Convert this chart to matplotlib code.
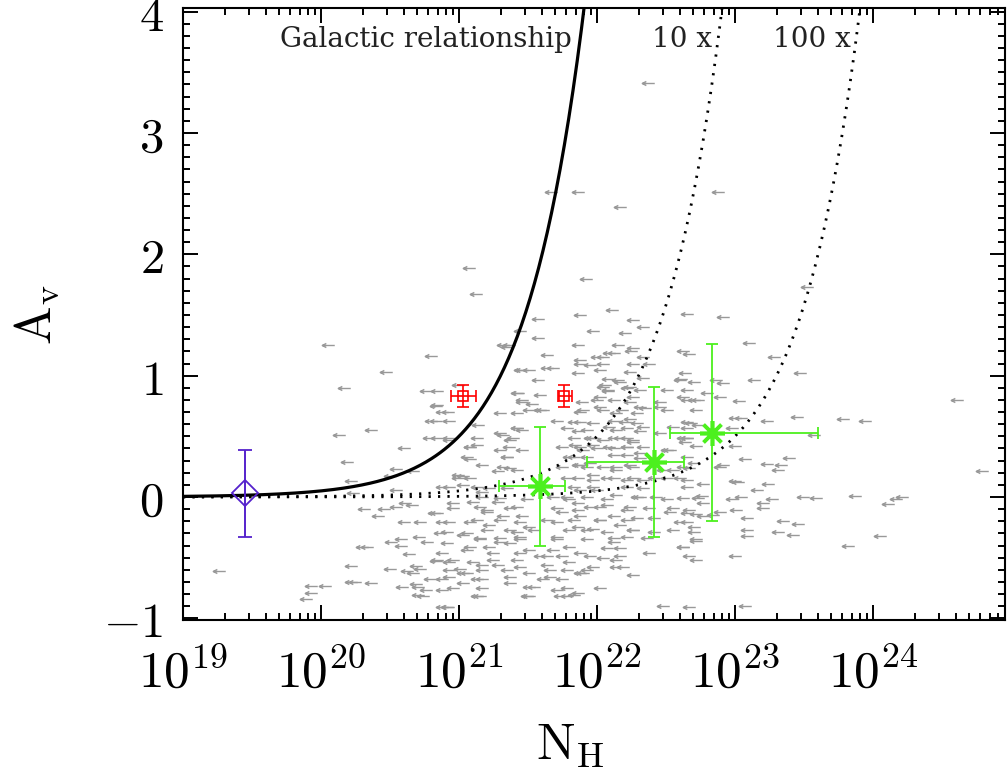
import numpy as np
import matplotlib
matplotlib.use("Agg")
import matplotlib.pyplot as plt
from matplotlib.path import Path
from matplotlib.ticker import MultipleLocator, LogLocator, FuncFormatter, NullFormatter

plt.rcParams['mathtext.fontset'] = 'cm'

# upper limits on N_H: (log10 N_H, A_V)
limit_pts = [
    # sparse upper part
    (22.37, 3.41), (21.86, 2.51), (21.67, 2.51), (22.17, 2.39), (22.88, 2.51),
    (21.07, 1.89), (21.12, 1.67), (21.92, 1.80), (22.11, 1.54), (21.88, 1.50),
    (21.57, 1.47), (22.26, 1.46), (22.33, 1.40), (21.97, 1.37), (22.20, 1.35),
    (21.57, 1.31), (22.65, 1.51), (22.91, 1.48), (23.52, 1.73), (21.44, 1.37),
    (21.35, 1.24), (21.86, 1.25), (22.15, 1.25), (22.26, 1.23),
    # left part
    (20.05, 1.25), (20.80, 1.16), (20.47, 1.03), (20.17, 0.90), (20.76, 0.87),
    (20.83, 0.75), (20.92, 0.70), (20.80, 0.63), (20.93, 0.63), (20.13, 0.51),
    (20.36, 0.55), (20.78, 0.49), (20.93, 0.49), (20.60, 0.40), (20.19, 0.29),
    (20.54, 0.23), (20.67, 0.21), (20.22, 0.13), (20.50, 0.17), (20.54, 0.06),
    (20.23, 0.03), (20.31, -0.10), (20.46, -0.10), (20.54, -0.08), (20.61, -0.05),
    (20.66, -0.07), (20.41, -0.16), (20.82, -0.13), (20.60, -0.21), (20.30, -0.41),
    (20.33, -0.41), (20.51, -0.37), (20.58, -0.35), (20.58, -0.40), (20.71, -0.33),
    (20.64, -0.47), (20.22, -0.57), (20.50, -0.59), (20.69, -0.57), (20.72, -0.59),
    (20.62, -0.61), (20.83, -0.53), (19.26, -0.61), (20.22, -0.70), (20.25, -0.70),
    (20.36, -0.71), (19.93, -0.73), (20.03, -0.73), (20.59, -0.74), (20.69, -0.72),
    (19.93, -0.79), (19.89, -0.84), (20.70, -0.81), (20.76, -0.77), (20.92, -0.91),
    # right part
    (23.10, 1.27), (22.62, 1.20), (22.67, 1.18), (23.28, 1.15), (23.47, 1.02),
    (22.61, 0.97), (22.86, 0.96), (22.91, 0.94), (23.14, 0.96), (22.62, 0.82),
    (22.70, 0.80), (22.73, 0.80), (22.89, 0.82), (23.03, 0.79), (24.61, 0.80),
    (22.80, 0.86), (23.45, 0.66), (23.78, 0.64), (23.94, 0.63), (23.23, 0.63),
    (23.00, 0.65), (23.04, 0.65), (22.68, 0.61), (22.73, 0.59), (22.98, 0.57),
    (23.57, 0.51), (23.00, 0.42), (22.72, 0.42), (22.62, 0.49), (23.39, 0.32),
    (23.07, 0.31), (23.23, 0.27), (23.33, 0.26), (23.31, 0.22), (24.79, 0.21),
    (22.89, 0.25), (22.91, 0.26), (23.24, 0.11), (23.16, 0.06), (23.00, 0.13),
    (23.02, 0.12), (22.77, 0.11), (23.49, 0.00), (23.59, -0.01), (23.87, 0.01),
    (24.11, -0.06), (24.17, -0.02), (24.21, 0.00), (23.27, -0.02), (23.20, -0.05),
    (23.20, -0.09), (23.04, 0.00), (22.98, -0.02), (22.76, 0.01), (22.73, -0.01),
    (22.89, -0.12), (23.01, -0.11), (23.09, -0.17), (23.35, -0.20), (23.46, -0.22),
    (23.09, -0.27), (23.31, -0.29), (23.42, -0.31), (23.09, -0.32), (24.05, -0.32),
    (23.82, -0.40), (22.72, -0.14), (22.72, -0.36), (22.62, -0.41), (22.67, -0.49),
    (22.72, -0.52), (23.00, -0.49), (22.48, -0.90), (22.67, -0.91), (23.07, -0.90),
    # dense centre
    (21.36, 1.25), (21.64, 1.17), (22.00, 1.15), (22.12, 1.19), (22.33, 1.15),
    (21.88, 1.10), (21.95, 1.09), (22.04, 1.10), (22.26, 1.10), (22.38, 1.10),
    (21.46, 1.05), (21.64, 1.06), (21.68, 1.06), (21.86, 1.02), (22.24, 1.03),
    (22.64, 1.02), (21.57, 0.96), (22.08, 0.97), (22.17, 0.95), (22.33, 0.98),
    (22.70, 0.95), (21.43, 0.86), (22.04, 0.91), (22.08, 0.88), (22.22, 0.90),
    (22.31, 0.88), (22.65, 0.88), (21.46, 0.80), (21.53, 0.77), (22.02, 0.82),
    (22.12, 0.80), (22.26, 0.82), (22.46, 0.78), (22.65, 0.80), (21.51, 0.72),
    (21.61, 0.72), (21.88, 0.70), (22.02, 0.74), (22.18, 0.72), (22.31, 0.74),
    (22.51, 0.72), (22.72, 0.72), (21.71, 0.63), (21.83, 0.62), (22.12, 0.63),
    (22.24, 0.64), (22.29, 0.61), (22.65, 0.62), (21.42, 0.57), (21.46, 0.55),
    (21.78, 0.57), (21.93, 0.55), (22.14, 0.55), (22.22, 0.57), (22.31, 0.54),
    (22.65, 0.57), (21.13, 0.49), (21.32, 0.51), (21.39, 0.49), (21.83, 0.49),
    (21.97, 0.49), (22.12, 0.49), (22.22, 0.49), (22.26, 0.47), (22.65, 0.49),
    (21.08, 0.41), (21.30, 0.39), (21.36, 0.41), (21.75, 0.41), (21.88, 0.41),
    (21.97, 0.43), (22.09, 0.41), (22.22, 0.41), (22.33, 0.41), (22.51, 0.39),
    (21.06, 0.33), (21.35, 0.33), (21.83, 0.33), (21.93, 0.33), (22.12, 0.35),
    (22.22, 0.35), (22.31, 0.32), (22.65, 0.33), (22.70, 0.28), (21.32, 0.25),
    (21.37, 0.24), (21.88, 0.26), (21.93, 0.25), (22.14, 0.25), (22.24, 0.26),
    (22.55, 0.22), (22.67, 0.24), (20.99, 0.16), (21.03, 0.17), (21.78, 0.16),
    (21.97, 0.18), (22.12, 0.16), (22.26, 0.16), (22.41, 0.16), (22.60, 0.16),
    (20.93, 0.08), (21.13, 0.08), (21.22, 0.07), (21.83, 0.08), (21.97, 0.08),
    (22.22, 0.08), (22.33, 0.07), (22.65, 0.08), (21.17, 0.00), (21.30, -0.01),
    (21.49, -0.02), (21.78, 0.00), (21.93, 0.00), (22.07, -0.02), (22.31, 0.00),
    (22.51, -0.02), (20.96, -0.09), (21.15, -0.08), (21.20, -0.11), (21.37, -0.09),
    (21.71, -0.09), (21.86, -0.11), (22.02, -0.08), (22.22, -0.11), (22.55, -0.09),
    (22.67, -0.11), (20.72, -0.21), (20.88, -0.21), (21.13, -0.19), (21.30, -0.19),
    (21.44, -0.21), (21.64, -0.19), (21.83, -0.19), (22.02, -0.19), (22.22, -0.19),
    (22.65, -0.21), (20.91, -0.29), (21.06, -0.30), (21.20, -0.27), (21.42, -0.29),
    (21.54, -0.27), (21.93, -0.27), (22.07, -0.29), (22.26, -0.27), (22.41, -0.29),
    (22.70, -0.29), (20.77, -0.37), (21.15, -0.35), (21.30, -0.37), (21.44, -0.35),
    (21.71, -0.35), (21.93, -0.35), (22.12, -0.37), (20.88, -0.46), (21.06, -0.44),
    (21.25, -0.46), (21.44, -0.46), (21.64, -0.49), (21.88, -0.46), (22.17, -0.49),
    (20.93, -0.54), (21.01, -0.59), (21.17, -0.56), (21.28, -0.56), (21.44, -0.58),
    (21.64, -0.56), (21.80, -0.54), (21.93, -0.60), (22.14, -0.58), (20.67, -0.63),
    (20.79, -0.68), (20.93, -0.66), (21.06, -0.63), (21.13, -0.68), (21.37, -0.66),
    (21.66, -0.66), (21.88, -0.63), (22.26, -0.64), (20.70, -0.74), (20.96, -0.75),
    (21.17, -0.75), (21.54, -0.74), (21.78, -0.75), (22.02, -0.75), (20.74, -0.82),
    (21.13, -0.82), (21.49, -0.82), (21.73, -0.82), (21.83, -0.81), (20.91, -0.91),
    # dense centre, right half
    (21.88, 1.13), (22.04, 1.15), (22.09, 1.19), (22.25, 1.20), (22.02, 1.05),
    (22.15, 0.96), (22.06, 0.92), (22.08, 0.87), (22.24, 0.91), (21.89, 0.78),
    (22.00, 0.80), (22.24, 0.78), (22.35, 0.73), (21.90, 0.72), (22.04, 0.72),
    (22.14, 0.69), (22.29, 0.69), (22.46, 0.74), (22.51, 0.88), (22.60, 0.96),
    (21.88, 0.62), (21.97, 0.61), (22.09, 0.58), (22.20, 0.62), (22.33, 0.58),
    (22.46, 0.53), (22.55, 0.58), (22.65, 0.49), (21.86, 0.54), (21.95, 0.49),
    (22.04, 0.47), (22.17, 0.49), (22.26, 0.45), (21.84, 0.43), (21.90, 0.39),
    (22.00, 0.40), (22.12, 0.40), (22.22, 0.41), (22.31, 0.36), (22.53, 0.39),
    (22.64, 0.45), (21.86, 0.26), (21.95, 0.28), (22.04, 0.25), (22.14, 0.22),
    (22.26, 0.25), (22.48, 0.22), (22.62, 0.25), (21.86, 0.16), (21.97, 0.14),
    (22.07, 0.16), (22.22, 0.14), (22.33, 0.14), (22.51, 0.16), (22.65, 0.14),
    (21.88, 0.06), (22.00, 0.06), (22.14, 0.02), (22.29, 0.00), (22.43, 0.00),
    (22.62, -0.01), (22.77, -0.05), (21.86, -0.05), (21.95, -0.08), (22.07, -0.07),
    (22.24, -0.08), (22.38, -0.09), (22.53, -0.12), (22.65, -0.13), (22.84, -0.15),
    (21.88, -0.16), (22.02, -0.19), (22.12, -0.16), (22.29, -0.17), (22.41, -0.17),
    (22.60, -0.21), (22.77, -0.16), (21.86, -0.25), (21.97, -0.26), (22.17, -0.23),
    (22.26, -0.27), (22.55, -0.27), (22.70, -0.25), (22.12, -0.34), (22.22, -0.33),
    (22.36, -0.34), (22.72, -0.35), (22.07, -0.42), (22.17, -0.42), (22.38, -0.46),
    (22.62, -0.41), (21.95, -0.49), (22.04, -0.50), (22.14, -0.52), (21.97, -0.58),
    (22.19, -0.58), (21.90, -0.63), (21.86, -0.79),
    # dense centre, left half
    (20.84, 0.87), (20.84, 0.76), (20.88, 0.70), (20.83, 0.63), (20.84, 0.49),
    (20.93, 0.47), (20.99, 0.92), (21.32, 1.25), (21.44, 1.05), (21.51, 1.05),
    (21.42, 0.86), (21.46, 0.78), (21.59, 0.84), (21.30, 0.69), (21.42, 0.69),
    (21.59, 0.72), (21.14, 0.59), (21.30, 0.53), (21.42, 0.57), (21.08, 0.41),
    (21.13, 0.43), (21.37, 0.47), (21.46, 0.39), (21.35, 0.33), (21.08, 0.31),
    (21.17, 0.26), (20.99, 0.18), (21.08, 0.16), (21.28, 0.21), (21.42, 0.22),
    (20.88, 0.08), (21.03, 0.10), (21.17, 0.04), (21.35, 0.07), (21.75, 0.25),
    (21.80, 0.33), (21.68, 0.00), (21.80, -0.02), (20.84, -0.13), (20.96, -0.05),
    (21.10, -0.04), (21.28, -0.04), (21.42, -0.08), (21.20, -0.12), (21.32, -0.16),
    (21.46, -0.16), (21.75, -0.12), (20.93, -0.21), (21.08, -0.21), (21.22, -0.23),
    (21.37, -0.27), (21.51, -0.25), (21.71, -0.21), (21.80, -0.27), (20.86, -0.30),
    (21.03, -0.31), (21.15, -0.34), (21.30, -0.34), (21.44, -0.33), (21.71, -0.33),
    (20.91, -0.38), (21.08, -0.41), (21.22, -0.41), (21.37, -0.38), (21.51, -0.44),
    (21.68, -0.44), (21.80, -0.41), (20.84, -0.52), (20.96, -0.52), (21.10, -0.54),
    (21.25, -0.52), (21.42, -0.52), (21.59, -0.49), (21.75, -0.49), (20.93, -0.60),
    (21.03, -0.63), (21.17, -0.60), (21.35, -0.60), (21.51, -0.63), (21.66, -0.60),
    (21.78, -0.60), (20.88, -0.68), (21.03, -0.71), (21.17, -0.68), (21.37, -0.71),
    (21.61, -0.68), (21.75, -0.68), (20.88, -0.77), (21.15, -0.82), (21.51, -0.74),
    (21.71, -0.77), (21.78, -0.82), (20.88, -0.91), (21.51, -0.82),
]
lim_log_nh = np.array([p[0] for p in limit_pts])
lim_av = np.array([p[1] for p in limit_pts])

# stacked detections (green)
stack_log_nh = [21.59, 22.41, 22.83]
stack_log_lo = [21.29, 21.93, 22.53]
stack_log_hi = [21.77, 22.63, 23.60]
stack_av = [0.09, 0.29, 0.53]
stack_av_err = [0.49, 0.62, 0.73]

# individual detections (red)
det_log_nh = [21.03, 21.76]
det_log_lo = [20.94, 21.72]
det_log_hi = [21.12, 21.82]
det_av = [0.83, 0.83]
det_av_err = [0.09, 0.09]

# low column point (purple)
low_log_nh = [19.45]
low_av = [0.03]
low_av_err = [0.36]

gal_ratio = 2.0e21          # N_H / A_V, galactic
ratio_factors = [1, 10, 100]


def xerr_from_log(c, lo, hi):
    c, lo, hi = np.array(c), np.array(lo), np.array(hi)
    return [10**c - 10**lo, 10**hi - 10**c]


fig = plt.figure(figsize=(10.07, 7.74), dpi=100)
ax = fig.add_axes([183/1007, 1-620/774, 822/1007, 612/774])
ax.set_xscale('log')

arrow = Path([(1, 0), (-1, 0), (-0.35, 0.33), (-1, 0), (-0.35, -0.33)],
             [Path.MOVETO, Path.LINETO, Path.MOVETO, Path.LINETO, Path.LINETO])
ax.plot(10**lim_log_nh, lim_av, ls='none', marker=arrow, ms=9, mew=1.0,
        mec='#999999', mfc='none', zorder=2)

nh = np.logspace(19, 25.2, 600)
for f in ratio_factors:
    av = nh / (gal_ratio * f)
    if f == 1:
        ax.plot(nh, av, color='black', lw=2.3, zorder=3)
    else:
        ax.plot(nh, av, color='black', lw=2.0, ls=(0, (0.8, 2.6)), zorder=3)

ax.errorbar(10**np.array(stack_log_nh), stack_av,
            xerr=xerr_from_log(stack_log_nh, stack_log_lo, stack_log_hi),
            yerr=stack_av_err, fmt='none', ecolor='#4cf01e', elinewidth=1.3,
            capsize=4.5, capthick=1.3, zorder=5)
ax.plot(10**np.array(stack_log_nh), stack_av, ls='none', marker=(8, 2, 0),
        ms=18, mew=2.6, mec='#4cf01e', color='#4cf01e', zorder=6)

ax.errorbar(10**np.array(det_log_nh), det_av,
            xerr=xerr_from_log(det_log_nh, det_log_lo, det_log_hi),
            yerr=det_av_err, fmt='s', ms=6.5, mfc='none', mec='red', mew=1.2,
            ecolor='red', elinewidth=1.2, capsize=4, capthick=1.2, zorder=5)

ax.errorbar(10**np.array(low_log_nh), low_av, yerr=low_av_err, fmt='D', ms=13,
            mfc='none', mec='#5522cc', mew=1.3, ecolor='#5522cc',
            elinewidth=1.4, capsize=5, capthick=1.4, zorder=5)

ax.set_xlim(1e19, 10**(19 + 822/138))
ax.set_ylim(-1.014, 4.03)

ax.yaxis.set_major_locator(MultipleLocator(1))
ax.yaxis.set_minor_locator(MultipleLocator(0.1))
ax.xaxis.set_major_locator(LogLocator(base=10, numticks=20))
ax.xaxis.set_minor_locator(LogLocator(base=10, subs=np.arange(2, 10), numticks=20))
ax.xaxis.set_minor_formatter(NullFormatter())
ax.xaxis.set_major_formatter(FuncFormatter(lambda v, _: r'$10^{%d}$' % int(round(np.log10(v)))))
ax.yaxis.set_major_formatter(FuncFormatter(lambda v, _: r'$%d$' % int(round(v))))

ax.tick_params(which='both', direction='in', top=True, right=True, width=1.4)
ax.tick_params(which='major', length=11)
ax.tick_params(which='minor', length=5)
ax.tick_params(axis='y', labelsize=35, pad=14)
ax.tick_params(axis='x', labelsize=37, pad=20)
for s in ax.spines.values():
    s.set_linewidth(1.5)

ax.set_xlabel(r'$\mathrm{N_H}$', fontsize=37)
ax.xaxis.set_label_coords(0.471, -0.205)
ax.xaxis.label.set_va('center')
ax.set_ylabel(r'$\mathrm{A_v}$', fontsize=37)
ax.yaxis.set_label_coords(-0.178, 0.5)
ax.yaxis.label.set_va('center')

lab_font = dict(family='DejaVu Serif', fontsize=20, color='#222222',
                va='baseline', transform=ax.transAxes)
ax.text(0.118, 0.936, 'Galactic relationship', **lab_font)
ax.text(0.571, 0.936, '10 x', **lab_font)
ax.text(0.718, 0.936, '100 x', **lab_font)

fig.savefig('out.png', dpi=100)
